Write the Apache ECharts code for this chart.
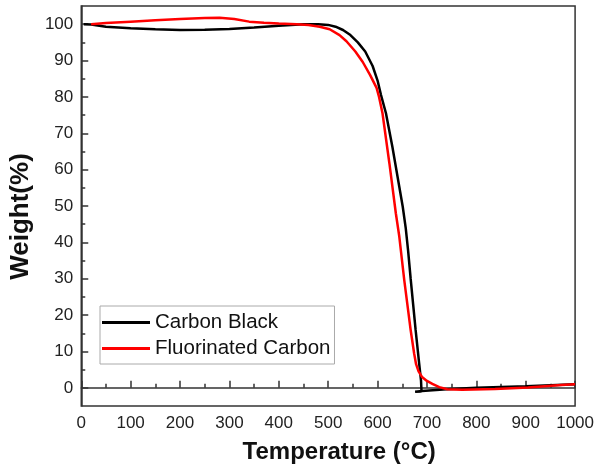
<!DOCTYPE html>
<html>
<head>
<meta charset="utf-8">
<script src="https://cdn.jsdelivr.net/npm/echarts@6/dist/echarts.min.js"></script>
<style>
  html, body { margin: 0; padding: 0; background: #fff; }
  #chart { width: 597px; height: 470px; }
</style>
</head>
<body>
<div id="chart"></div>
<script>
// Carbon Black
const cbTemp = [5, 20, 50, 100, 150, 200, 250, 300, 350, 400, 450, 480, 500, 515, 530, 545, 560, 575, 590, 600, 607, 617, 630, 644, 651, 657, 662, 667, 672, 677, 684, 688, 689, 676, 690, 740, 800, 850, 900, 950, 1000]
const cbWeight = [100, 99.9, 99.3, 98.9, 98.6, 98.4, 98.5, 98.7, 99.1, 99.6, 100, 100, 99.8, 99.3, 98.4, 97, 95, 92.5, 88.5, 84.5, 80.5, 75.5, 66.3, 55.3, 49.8, 44, 37.5, 30, 23, 16, 7, 2, -1, -1.1, -0.9, -0.4, 0, 0.2, 0.4, 0.7, 1.0]

// Fluorinated Carbon
const fcTemp = [20, 50, 100, 150, 200, 250, 280, 310, 340, 370, 400, 436, 460, 483, 503, 523, 537, 555, 570, 585, 598, 603, 610, 624, 637, 644, 654, 667, 674, 678, 683, 690, 700, 711, 725, 741, 771, 838, 905, 972, 1000]
const fcWeight = [100, 100.3, 100.7, 101.1, 101.4, 101.7, 101.8, 101.4, 100.7, 100.4, 100.2, 100, 99.8, 99.3, 98.6, 97, 95.3, 92.5, 89.6, 86, 82.5, 80, 75.5, 61.7, 48, 41.6, 29.7, 15.9, 9.5, 6.5, 4.5, 3, 1.9, 1.1, 0.2, -0.4, -0.5, -0.3, 0.1, 0.8, 1.0]

const yMajor = [0, 10, 20, 30, 40, 50, 60, 70, 80, 90, 100]
const yMinor = [5, 15, 25, 35, 45, 55, 65, 75, 85, 95]

const font = 'Liberation Sans, Arial, sans-serif'
const chart = echarts.init(document.getElementById('chart'))

const zip = (xs, ys) => xs.map((x, i) => [x, ys[i]])

chart.setOption({
  backgroundColor: '#fff',
  animation: false,
  grid: {
    left: 80, right: 20, top: 6, bottom: 64,
    show: true, borderColor: '#333', borderWidth: 1.5
  },
  legend: {
    orient: 'vertical',
    left: 100, top: 306,
    padding: [6, 4, 5, 2],
    borderColor: '#aaa', borderWidth: 1,
    icon: 'rect',
    itemWidth: 48, itemHeight: 3, itemGap: 5,
    textStyle: { fontFamily: font, fontSize: 20.5, color: '#111' },
    data: ['Carbon Black', 'Fluorinated Carbon']
  },
  xAxis: {
    type: 'value',
    min: 0, max: 1000, interval: 100,
    name: 'Temperature (°C)',
    nameLocation: 'middle', nameGap: 34,
    nameTextStyle: { fontFamily: font, fontSize: 24, fontWeight: 'bold', color: '#111', padding: [0, 0, 0, 22] },
    axisLine: { lineStyle: { color: '#333', width: 1.5 } },
    axisTick: { inside: true, length: 7, lineStyle: { color: '#333', width: 1.5 } },
    minorTick: { show: true, splitNumber: 2, length: 4, lineStyle: { color: '#333', width: 1.5 } },
    axisLabel: { fontFamily: font, fontSize: 17, color: '#222', margin: 9, formatter: v => String(v) },
    splitLine: { show: false }
  },
  yAxis: [{
    type: 'value',
    min: -5, max: 105,
    position: 'left',
    name: 'Weight(%)',
    nameLocation: 'middle', nameGap: 35,
    nameTextStyle: { fontFamily: font, fontSize: 26, fontWeight: 'bold', color: '#111', padding: [0, 21, 0, 0] },
    axisLine: { show: true, lineStyle: { color: '#333', width: 1.5 } },
    axisTick: { show: true, inside: true, length: 7, customValues: yMajor, lineStyle: { color: '#333', width: 1.5 } },
    axisLabel: { fontFamily: font, fontSize: 17, color: '#222', margin: 8, customValues: yMajor },
    splitLine: { show: false }
  }, {
    type: 'value',
    min: -5, max: 105,
    position: 'left',
    axisLine: { show: false },
    axisTick: { show: true, inside: true, length: 4, customValues: yMinor, lineStyle: { color: '#333', width: 1.5 } },
    axisLabel: { show: false },
    splitLine: { show: false }
  }],
  series: [{
    name: 'Carbon Black',
    type: 'line',
    symbol: 'none',
    color: '#000',
    lineStyle: { width: 2.5, color: '#000' },
    data: zip(cbTemp, cbWeight)
  }, {
    name: 'Fluorinated Carbon',
    type: 'line',
    symbol: 'none',
    color: '#ff0000',
    lineStyle: { width: 2.5, color: '#ff0000' },
    data: zip(fcTemp, fcWeight)
  }]
})
</script>
</body>
</html>
